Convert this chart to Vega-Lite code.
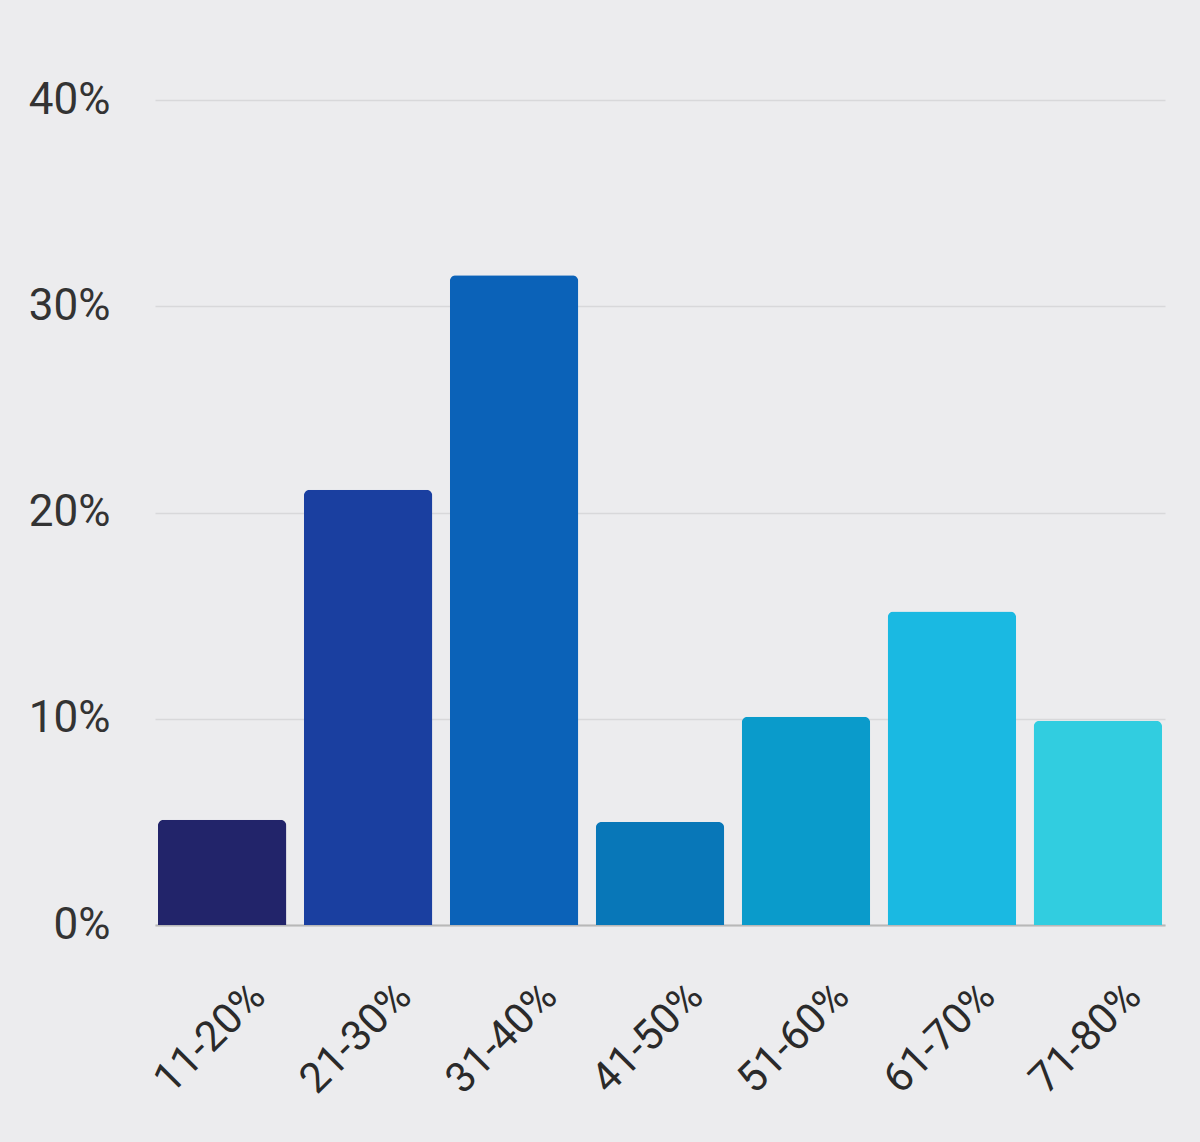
{
  "$schema": "https://vega.github.io/schema/vega-lite/v6.json",
  "width": 1010,
  "height": 825,
  "autosize": "none",
  "padding": {"left": 155, "top": 100, "right": 35, "bottom": 217},
  "background": "#ececee",
  "data": {"values": [
    {"range": "11-20%", "share": 0.051, "color": "#22246a"},
    {"range": "21-30%", "share": 0.211, "color": "#1a3fa0"},
    {"range": "31-40%", "share": 0.315, "color": "#0b62b8"},
    {"range": "41-50%", "share": 0.050, "color": "#0877b8"},
    {"range": "51-60%", "share": 0.101, "color": "#0a9bcb"},
    {"range": "61-70%", "share": 0.152, "color": "#1ab9e2"},
    {"range": "71-80%", "share": 0.099, "color": "#31cde0"}
  ]},
  "config": {
    "view": {"stroke": null},
    "font": "Roboto"
  },
  "mark": {"type": "bar", "cornerRadiusTopLeft": 6, "cornerRadiusTopRight": 6},
  "encoding": {
    "x": {
      "field": "range", "type": "nominal", "sort": null,
      "scale": {"paddingInner": 0.12, "paddingOuter": 0.02},
      "axis": {
        "title": null, "labelAngle": -45, "labelAlign": "right", "labelBaseline": "top",
        "labelFontSize": 42, "labelColor": "#2a2a2a", "labelPadding": 50, "labelOffset": 22,
        "ticks": false, "domain": true, "domainColor": "#b8b8b8", "domainWidth": 2
      }
    },
    "y": {
      "field": "share", "type": "quantitative",
      "scale": {"domain": [0, 0.4]},
      "axis": {
        "title": null, "format": ".0%", "values": [0, 0.1, 0.2, 0.3, 0.4],
        "labelFontSize": 44, "labelColor": "#333333", "labelPadding": 45,
        "ticks": false, "domain": false, "gridColor": "#d8d8da", "gridWidth": 1.5
      }
    },
    "color": {"field": "color", "type": "nominal", "scale": null, "legend": null}
  }
}
